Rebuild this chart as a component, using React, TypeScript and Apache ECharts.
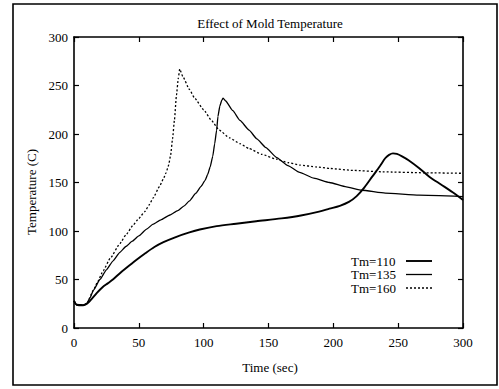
import React, { useEffect, useRef } from "react";
import * as echarts from "echarts";

const xTicks = [0, 50, 100, 150, 200, 250, 300];
const yTicks = [0, 50, 100, 150, 200, 250, 300];

const seriesNames = ["Tm=110", "Tm=135", "Tm=160"];

const tm110: [number, number][] = [
  [0, 28], [2, 24], [7, 23.5], [10, 25], [13, 29], [17.5, 36], [22, 42], [26, 46], [30, 50],
  [35, 56], [40, 61.5], [48, 70], [55, 77], [62, 83.5], [69, 88.5], [78, 93.5], [89, 98.5],
  [97, 101.5], [110, 105], [125, 107.5], [140.5, 110], [160, 113], [175, 116], [189, 120],
  [197, 123], [205, 126], [212, 130], [218, 136], [224, 145], [230, 156], [236, 167],
  [240, 175], [243, 178.5], [246, 180], [249, 179.5], [253, 177], [258, 173], [266, 165],
  [274, 156], [283, 148], [292, 140], [300, 132],
];

const tm135: [number, number][] = [
  [0, 28], [2, 24], [7, 23.5], [10, 25.5], [12.3, 31], [15, 39], [20, 50], [25, 60], [30, 69],
  [35.4, 78], [40, 84], [45, 89.5], [50, 95], [56, 102], [61, 107], [67, 111.5], [74, 116.5],
  [80, 121], [85, 126], [89, 131], [94, 139], [98, 146], [101, 152], [103, 158], [105, 166],
  [107, 177], [108.5, 190], [110, 204], [111, 218], [112.5, 229], [114, 235], [115, 237],
  [117, 234], [122.5, 224], [128, 214], [135, 204], [141, 195], [148, 186], [156, 176],
  [165, 167.5], [174, 160.5], [185, 154.5], [197, 150], [210, 145.5], [222, 142], [240, 139],
  [266, 137], [300, 135.5],
];

const tm160: [number, number][] = [
  [0, 28], [2, 24], [7, 23.5], [10, 25.5], [15, 39], [18, 47], [22.5, 59], [28, 72],
  [35.4, 87], [40, 96], [45.6, 106], [50, 113], [54.6, 120], [58, 127], [61, 134], [66, 146],
  [69, 154], [71, 160], [73, 168], [74.5, 178], [76, 195], [77.5, 215], [79, 240], [80.5, 258],
  [81.5, 267], [84, 259], [89, 246], [93, 237], [100, 225], [106, 214], [112, 204], [120, 196],
  [128, 190], [135, 185], [145, 179], [156, 174], [165, 170.5], [174, 168], [187, 166],
  [197, 164.5], [215, 162.5], [238, 161], [270, 160], [300, 159.5],
];

const FONT = "Liberation Serif";

export default function App() {
  const ref = useRef<HTMLDivElement>(null);
  useEffect(() => {
    if (!ref.current) return;
    const chart = echarts.init(ref.current, undefined, { renderer: "svg" });
    const axisCommon = {
      min: 0,
      max: 300,
      interval: 50,
      axisLine: { show: true, onZero: false, lineStyle: { color: "#000", width: 1.6 } },
      axisTick: { show: true, inside: true, length: 5, lineStyle: { color: "#000", width: 1.2 } },
      splitLine: { show: false },
    };
    const legendRows = [261, 274.5, 288];
    const legendDash: (number[] | null)[] = [null, null, [2, 2]];
    const legendWidth = [1.9, 1.3, 1.3];
    const legendGraphics: any[] = [];
    seriesNames.forEach((name, i) => {
      legendGraphics.push({
        type: "text", x: 351, y: legendRows[i],
        style: {
          text: name, fontFamily: FONT, fontSize: 13, fill: "#000",
          align: "left", verticalAlign: "middle",
        },
      });
      legendGraphics.push({
        type: "line", silent: true,
        shape: { x1: 406, y1: legendRows[i], x2: 432, y2: legendRows[i] },
        style: {
          stroke: "#000", lineWidth: legendWidth[i],
          lineDash: legendDash[i] || undefined,
        },
      });
    });
    chart.setOption({
      animation: false,
      backgroundColor: "#fff",
      textStyle: { fontFamily: FONT },
      grid: { left: 74, right: 36, top: 37, bottom: 61, containLabel: false },
      xAxis: [
        {
          type: "value",
          ...axisCommon,
          position: "bottom",
          axisLabel: {
            show: true, margin: 8, color: "#000", fontFamily: FONT, fontSize: 13,
            formatter: (v: number) => (xTicks.includes(v) ? String(v) : ""),
          },
        },
        {
          type: "value",
          ...axisCommon,
          position: "top",
          axisLabel: { show: false },
        },
      ],
      yAxis: [
        {
          type: "value",
          ...axisCommon,
          position: "left",
          axisLabel: {
            show: true, margin: 6, color: "#000", fontFamily: FONT, fontSize: 13,
            formatter: (v: number) => (yTicks.includes(v) ? String(v) : ""),
          },
        },
        {
          type: "value",
          ...axisCommon,
          position: "right",
          axisLabel: { show: false },
        },
      ],
      series: [
        {
          name: seriesNames[0], type: "line", data: tm110, symbol: "none", smooth: 0.3,
          lineStyle: { color: "#000", width: 1.9, type: "solid" },
          itemStyle: { color: "#000" },
        },
        {
          name: seriesNames[1], type: "line", data: tm135, symbol: "none", smooth: 0.15,
          smoothMonotone: "x",
          lineStyle: { color: "#000", width: 1.3, type: "solid" },
          itemStyle: { color: "#000" },
        },
        {
          name: seriesNames[2], type: "line", data: tm160, symbol: "none", smooth: 0.15,
          smoothMonotone: "x",
          lineStyle: { color: "#000", width: 1.3, type: [2, 2] },
          itemStyle: { color: "#000" },
        },
      ],
      graphic: [
        {
          type: "rect", silent: true,
          shape: { x: 13, y: 4, width: 484, height: 381 },
          style: { fill: "none", stroke: "#000", lineWidth: 1.6 },
        },
        {
          type: "text", x: 270, y: 23,
          style: {
            text: "Effect of Mold Temperature", fontFamily: FONT, fontSize: 13,
            fill: "#000", align: "center", verticalAlign: "middle",
          },
        },
        {
          type: "text", x: 270, y: 367,
          style: {
            text: "Time (sec)", fontFamily: FONT, fontSize: 13,
            fill: "#000", align: "center", verticalAlign: "middle",
          },
        },
        {
          type: "text", x: 31, y: 192, rotation: Math.PI / 2,
          style: {
            text: "Temperature (C)", fontFamily: FONT, fontSize: 13,
            fill: "#000", align: "center", verticalAlign: "middle",
          },
        },
        ...legendGraphics,
      ],
    });
    return () => chart.dispose();
  }, []);
  return (
    <div
      ref={ref}
      style={{ position: "absolute", left: 0, top: 0, width: 499, height: 389 }}
    />
  );
}
